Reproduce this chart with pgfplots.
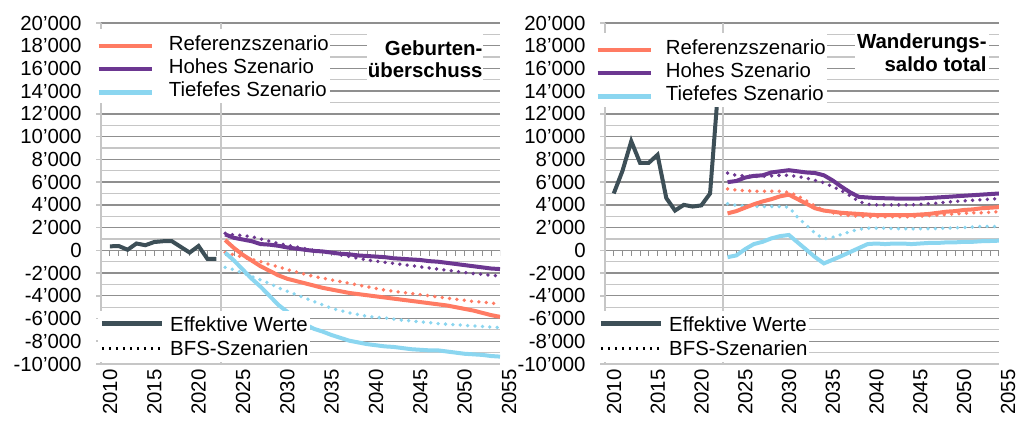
\documentclass[border=0pt]{standalone}
\usepackage{fontspec}
\setmainfont{Liberation Sans}
\usepackage{pgfplots}
\pgfplotsset{compat=1.18}
\usepackage{pgfplotstable}

\definecolor{cref}{HTML}{FF7B63}
\definecolor{choch}{HTML}{6C3791}
\definecolor{ctief}{HTML}{8BD6F0}
\definecolor{ceff}{HTML}{3D4F57}
\definecolor{gmaj}{HTML}{8F8F8F}
\definecolor{gmin}{HTML}{C6C6C6}
\definecolor{gsep}{HTML}{C8C8C8}
\newcommand\fs{\fontsize{10.2}{12.2}\selectfont}

\pgfplotstableread{
year ref hoch tief refB hochB tiefB
2024 900 1400 -200 -200 1500 -1500
2025 200 1100 -900 -400 1350 -1700
2026 -400 950 -1700 -600 1300 -2000
2027 -900 800 -2500 -800 1200 -2300
2028 -1400 550 -3200 -1000 1000 -2600
2029 -1800 500 -4000 -1250 800 -2900
2030 -2200 400 -4800 -1450 600 -3300
2031 -2500 250 -5400 -1700 450 -3600
2032 -2700 150 -6000 -1900 300 -3900
2033 -2900 50 -6500 -2100 150 -4200
2034 -3100 -50 -6900 -2300 0 -4500
2035 -3300 -100 -7150 -2450 -100 -4800
2036 -3450 -200 -7450 -2600 -250 -5100
2037 -3600 -300 -7700 -2750 -400 -5300
2038 -3750 -350 -7950 -2900 -550 -5500
2039 -3850 -450 -8100 -3050 -700 -5650
2040 -3950 -500 -8250 -3200 -850 -5800
2041 -4050 -550 -8350 -3350 -950 -5900
2042 -4150 -600 -8450 -3500 -1050 -5950
2043 -4250 -700 -8500 -3600 -1150 -6050
2044 -4350 -750 -8600 -3700 -1250 -6150
2045 -4450 -800 -8700 -3800 -1350 -6200
2046 -4550 -850 -8750 -3900 -1450 -6300
2047 -4650 -950 -8800 -4000 -1550 -6350
2048 -4750 -1000 -8800 -4100 -1650 -6450
2049 -4850 -1100 -8900 -4200 -1750 -6500
2050 -5000 -1200 -9000 -4300 -1850 -6550
2051 -5150 -1300 -9100 -4400 -1950 -6600
2052 -5300 -1400 -9150 -4500 -2050 -6650
2053 -5500 -1500 -9200 -4550 -2100 -6700
2054 -5700 -1600 -9300 -4650 -2200 -6750
2055 -5850 -1650 -9350 -4700 -2250 -6800
}\geb

\pgfplotstableread{
year eff
2011 350
2012 380
2013 50
2014 600
2015 450
2016 730
2017 800
2018 800
2019 300
2020 -200
2021 380
2022 -750
2023 -750
}\gebeff

\pgfplotstableread{
year ref hoch tief refB hochB tiefB
2024 3250 6000 -600 5400 6800 4100
2025 3450 6100 -450 5300 6600 3950
2026 3750 6400 100 5250 6550 3900
2027 4050 6550 550 5200 6500 3870
2028 4300 6600 750 5200 6500 3850
2029 4500 6850 1050 5200 6550 3850
2030 4750 6950 1250 5200 6600 3850
2031 4900 7050 1350 5100 6600 3800
2032 4500 6950 700 4800 6500 2900
2033 4100 6850 50 4350 6350 2200
2034 3700 6800 -600 3900 6150 1500
2035 3500 6600 -1150 3500 5950 1000
2036 3400 6150 -830 3300 5600 1150
2037 3300 5600 -500 3150 5250 1400
2038 3250 5100 -150 3050 4800 1650
2039 3200 4700 200 3000 4300 1850
2040 3150 4650 550 2950 4050 1950
2041 3100 4600 600 2950 4000 1950
2042 3100 4580 550 2950 4000 1950
2043 3100 4560 600 2950 4000 1900
2044 3100 4550 600 2950 4000 1900
2045 3100 4550 550 2950 4000 1880
2046 3150 4560 600 3000 4050 1900
2047 3200 4600 650 3050 4100 1900
2048 3300 4650 650 3100 4150 1920
2049 3400 4700 700 3150 4250 1950
2050 3450 4750 700 3200 4300 1980
2051 3550 4800 750 3250 4350 2000
2052 3600 4850 750 3300 4400 2050
2053 3700 4900 800 3300 4450 2100
2054 3750 4950 820 3350 4500 2100
2055 3800 5000 850 3400 4550 2100
}\wan

\pgfplotstableread{
year eff
2011 5000
2012 7000
2013 9600
2014 7700
2015 7700
2016 8400
2017 4600
2018 3500
2019 4000
2020 3850
2021 3950
2022 5000
2023 15000
}\waneff

\pgfplotsset{
  basestyle/.style={
    scale only axis, height=170.5pt,
    xmin=2010, xmax=2055, ymin=-10000, ymax=20000,
    anchor=south west,
  },
  mainstyle/.style={
    basestyle,
    scaled y ticks=false, scaled x ticks=false,
    axis x line*=bottom, axis y line*=left,
    axis line style={gmin, line width=0.8pt},
    ytick={-10000,-8000,...,20000},
    yticklabels={-10’000,-8’000,-6’000,-4’000,-2’000,0,2’000,4’000,6’000,8’000,10’000,12’000,14’000,16’000,18’000,20’000},
    minor y tick num=1,
    ymajorgrids, yminorgrids,
    major grid style={gmaj, line width=0.7pt},
    minor grid style={gmin, line width=0.6pt},
    tick align=outside,
    major tick length=2.5pt, minor tick length=0pt,
    y tick style={gmin, line width=0.8pt},
    xtick={2010,2015,...,2055},
    xticklabels={2010,2015,2020,2025,2030,2035,2040,2045,2050,2055},
    x tick style={draw=none},
    xticklabel style={rotate=90, anchor=east, inner sep=0pt, yshift=-4.5pt},
    yticklabel style={anchor=east, inner sep=0pt, xshift=-7pt},
    tick label style={font=\fs},
    legend cell align=left,
    legend image code/.code={\draw[##1] (0pt,0pt) -- (30pt,0pt);},
    legend style={draw=none, fill=white, font=\fs, at={(0,0)}, anchor=south west,
      yshift=1pt, inner xsep=0.5pt, inner ysep=0.5pt, row sep=0pt, column sep=3pt,
      nodes={inner xsep=0pt, inner ysep=2.425pt, text height=7.4pt, text depth=0pt}},
  },
  topstyle/.style={
    basestyle, hide axis,
    legend cell align=left,
    legend image code/.code={\draw[##1] (0pt,-1.5pt) -- (26.5pt,-1.5pt);},
    legend style={draw=none, fill=white, font=\fs, at={(0,1)}, anchor=north west,
      inner xsep=0.5pt, inner ysep=0.875pt, row sep=0pt,
      nodes={inner xsep=0pt, inner ysep=2.125pt, text height=7.4pt, text depth=0pt}},
  },
  sol/.style={line width=2pt},
  dot/.style={line width=1.9pt, line cap=round, dash pattern=on 0pt off 3.7pt},
}

\begin{document}
\begin{tikzpicture}
\useasboundingbox (0,0) rectangle (512pt,211pt);
% ---------------- left panel ----------------
\begin{axis}[mainstyle, at={(50.5pt,29pt)}, width=199.5pt,
  legend style={xshift=-1.5pt}]
  \draw[gsep, line width=0.8pt] (axis cs:2023.5,-10000) -- (axis cs:2023.5,20000);
  \pgfplotsinvokeforeach{2011,...,2055}{\draw[gmaj, line width=0.5pt] (axis cs:#1,0) -- ++(0pt,-3pt);}
  \addlegendimage{ceff, line width=2.4pt}
  \addlegendentry{Effektive Werte}
  \addlegendimage{black, line width=1.5pt, dash pattern=on 1.3pt off 2.2pt}
  \addlegendentry{BFS-Szenarien}
  \addplot[forget plot, dot, ctief] table[x=year, y=tiefB] {\geb};
  \addplot[forget plot, dot, cref] table[x=year, y=refB] {\geb};
  \addplot[forget plot, dot, choch] table[x=year, y=hochB] {\geb};
  \addplot[forget plot, sol, ctief] table[x=year, y=tief] {\geb};
  \addplot[forget plot, sol, cref] table[x=year, y=ref] {\geb};
  \addplot[forget plot, sol, choch] table[x=year, y=hoch] {\geb};
  \addplot[forget plot, sol, ceff] table[x=year, y=eff] {\gebeff};
\end{axis}
\begin{axis}[topstyle, at={(50.5pt,29pt)}, width=199.5pt,
  legend style={xshift=-3pt, yshift=-3pt, column sep=7.5pt}]
  \fill[white] (rel axis cs:0.667,0.985) rectangle (rel axis cs:0.957,0.821);
  \node[anchor=base east, inner sep=0pt, font=\fs\bfseries] at (rel axis cs:0.957,0.906) {Geburten-};
  \node[anchor=base east, inner sep=0pt, font=\fs\bfseries] at (rel axis cs:0.957,0.841) {überschuss};
  \addlegendimage{cref, line width=2.2pt}
  \addlegendentry{Referenzszenario}
  \addlegendimage{choch, line width=2.2pt}
  \addlegendentry{Hohes Szenario}
  \addlegendimage{ctief, line width=2.2pt}
  \addlegendentry{Tiefefes Szenario}
\end{axis}
% ---------------- right panel ----------------
\begin{axis}[mainstyle, at={(302.5pt,29pt)}, width=197pt,
  legend style={xshift=-4pt}]
  \draw[gsep, line width=0.8pt] (axis cs:2023.5,-10000) -- (axis cs:2023.5,20000);
  \pgfplotsinvokeforeach{2011,...,2055}{\draw[gmaj, line width=0.5pt] (axis cs:#1,0) -- ++(0pt,-3pt);}
  \addlegendimage{ceff, line width=2.4pt}
  \addlegendentry{Effektive Werte}
  \addlegendimage{black, line width=1.5pt, dash pattern=on 1.3pt off 2.2pt}
  \addlegendentry{BFS-Szenarien}
  \addplot[forget plot, dot, ctief] table[x=year, y=tiefB] {\wan};
  \addplot[forget plot, dot, cref] table[x=year, y=refB] {\wan};
  \addplot[forget plot, dot, choch] table[x=year, y=hochB] {\wan};
  \addplot[forget plot, sol, ctief] table[x=year, y=tief] {\wan};
  \addplot[forget plot, sol, cref] table[x=year, y=ref] {\wan};
  \addplot[forget plot, sol, choch] table[x=year, y=hoch] {\wan};
  \addplot[forget plot, sol, ceff] table[x=year, y=eff] {\waneff};
\end{axis}
\begin{axis}[topstyle, at={(302.5pt,29pt)}, width=197pt,
  legend style={xshift=-5.5pt, yshift=-5pt, column sep=6.5pt}]
  \fill[white] (rel axis cs:0.635,0.985) rectangle (rel axis cs:0.975,0.845);
  \node[anchor=base east, inner sep=0pt, font=\fs\bfseries] at (rel axis cs:0.9695,0.924) {Wanderungs-};
  \node[anchor=base east, inner sep=0pt, font=\fs\bfseries] at (rel axis cs:0.9695,0.857) {saldo total};
  \addlegendimage{cref, line width=2.2pt}
  \addlegendentry{Referenzszenario}
  \addlegendimage{choch, line width=2.2pt}
  \addlegendentry{Hohes Szenario}
  \addlegendimage{ctief, line width=2.2pt}
  \addlegendentry{Tiefefes Szenario}
\end{axis}
\end{tikzpicture}
\end{document}
